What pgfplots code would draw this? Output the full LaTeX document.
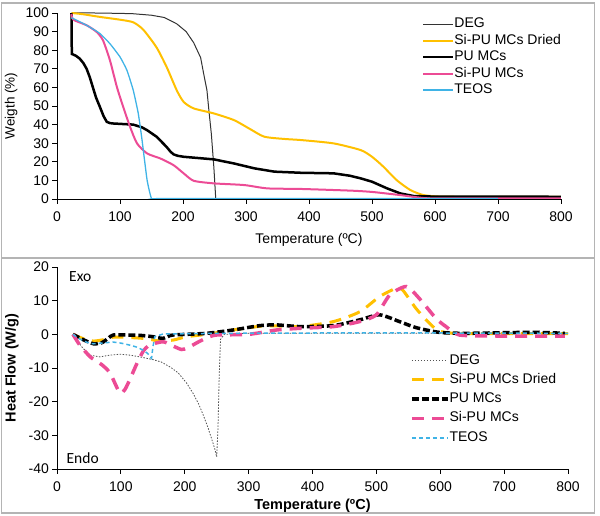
\documentclass[border=0pt]{standalone}
\usepackage{pgfplots}
\pgfplotsset{compat=1.18}
\usepackage{fontspec}
\setmainfont{Liberation Sans}
\newfontfamily\calibri{Carlito}
\definecolor{cgold}{HTML}{FFC000}
\definecolor{cpink}{HTML}{EC4B95}
\definecolor{ccyan}{HTML}{3FB3E6}
\definecolor{cdeg}{HTML}{333333}
\definecolor{cframe}{HTML}{B4B4B4}
\pgfplotsset{
  common/.style={
    scale only axis,
    axis lines=left,
    axis line style={-, black, line width=0.9pt},
    tick style={black, line width=0.9pt},
    tick align=outside,
    major tick length=4.5pt,
    xmin=0, xmax=800,
    xtick={0,100,...,800},
    /pgf/number format/assume math mode=true,
    tick label style={font=\fontsize{14}{16}\selectfont},
    xticklabel style={yshift=-5pt},
    legend cell align=left,
  },
}
\begin{document}
\begin{tikzpicture}
\useasboundingbox (0pt,0pt) rectangle (600pt,515pt);
\draw[cframe, line width=1.2pt] (1.5pt,257pt) rectangle (594.5pt,512pt);
\draw[cframe, line width=1.2pt] (1.5pt,2pt) rectangle (594.5pt,257pt);
% ---------------- TGA ----------------
\begin{axis}[common,
  at={(57pt,316pt)}, anchor=south west,
  width=504pt, height=186pt,
  ymin=0, ymax=100, ytick={0,10,...,100},
  xlabel={Temperature (ºC)},
  ylabel={Weigth (\%)},
  xlabel style={at={(axis description cs:0.5,-0.218)}, anchor=center, font=\fontsize{14}{16}\selectfont},
  ylabel style={at={(axis description cs:-0.091,0.5)}, anchor=center, font=\fontsize{13.5}{16}\selectfont},
  legend image code/.code={\draw[#1] (0pt,0pt) -- (30pt,0pt);},
  legend style={at={(axis description cs:0.724,0.975)}, anchor=north west, draw=none, fill=none,
    inner sep=0pt, outer sep=0pt, row sep=3.5pt,
    font=\fontsize{14}{16}\selectfont,
    nodes={inner sep=0pt, text height=10pt, text depth=3pt},
    /tikz/every even column/.append style={column sep=2.5pt}},
]
\addplot[cdeg, line width=1pt] coordinates {
(25,100)(60,100)(100,99.8)(121,99.6)(150,98.8)(170,97.6)(190,94.2)(205,90)(217,84)(228,76)(233,67)(238,58.5)(241,48)(245,35)(249,17)(252,0)(260,0)(800,0)};
\addlegendentry{DEG}
\addplot[cgold, line width=2pt, smooth, tension=0.4] coordinates {
(23,100)(40,99.4)(68,97.9)(100,96.4)(121,95)(137,91)(158,81.5)(174,71)(190,58.5)(201,52.2)(217,48.7)(249,46)(281,42.4)(307,37.5)(329,33.5)(360,32.3)(387,31.7)(439,29.9)(482,26.3)(500,22.7)(518,17.4)(539,10.2)(561,4.8)(582,2.1)(608,1.3)(650,1.2)(800,1.2)};
\addlegendentry{Si-PU MCs Dried}
\addplot[black, line width=2.5pt] coordinates {
(23,100)(23.5,78)(30,77)(36,75.5)(42,73)(47,70)(52,65.5)(57,60)(62,54.5)(68,49.6)(74,44.5)(79,41.5)(84,40.8)(89,40.6)(121,40)(135,38.5)(143,37)(158,33.5)(174,28)(180,25.5)(185,24)(192,23.2)(201,22.7)(249,21.3)(281,19.1)(313,16.5)(345,14.7)(387,14.1)(439,13.8)(465,12.5)(482,11.1)(500,9.3)(524,5.7)(545,3)(566,1.6)(597,1.3)(800,1.2)};
\addlegendentry{PU MCs}
\addplot[cpink, line width=2pt, smooth, tension=0.4] coordinates {
(23,99.5)(26,96.4)(47,93.4)(63,89.8)(73,85.3)(84,74.6)(95,60.3)(105,49.6)(116,38.8)(127,29.9)(143,24.5)(164,21.8)(185,18.2)(201,13.8)(217,9.8)(249,8.4)(297,7.5)(334,5.7)(387,5.4)(466,4.5)(500,3.8)(545,2.1)(587,0.4)(650,0.3)(800,0.3)};
\addlegendentry{Si-PU MCs}
\addplot[ccyan, line width=1.3pt, smooth, tension=0.3] coordinates {
(23,97.5)(47,93.4)(68,89)(84,83.5)(100,76.4)(111,69.2)(121,58.5)(129,46)(135,31.7)(143,10.2)(150,0.3)(160,0.2)(400,0.2)(700,0.2)};
\addlegendentry{TEOS}
\end{axis}
% ---------------- DSC ----------------
\begin{axis}[common,
  at={(57pt,46pt)}, anchor=south west,
  width=511pt, height=202pt,
  ymin=-40, ymax=20, ytick={-40,-30,...,20},
  xlabel={\bfseries Temperature (ºC)},
  ylabel={\bfseries Heat Flow (W/g)},
  xlabel style={at={(axis description cs:0.5,-0.183)}, anchor=center, font=\fontsize{14.5}{16}\selectfont},
  ylabel style={at={(axis description cs:-0.088,0.5)}, anchor=center, font=\fontsize{14.5}{16}\selectfont},
  legend image code/.code={\draw[#1] (0pt,0pt) -- (36pt,0pt);},
  legend style={at={(axis description cs:0.691,0.569)}, anchor=north west, draw=none, fill=none,
    inner sep=0pt, outer sep=0pt, row sep=6.3pt,
    font=\fontsize{14}{16}\selectfont,
    nodes={inner sep=0pt, text height=10pt, text depth=3pt},
    /tikz/every even column/.append style={column sep=7pt}},
]
\node[anchor=west, font=\calibri\fontsize{15.5}{18}\selectfont] at (rel axis cs:0.017,0.955) {Exo};
\node[anchor=west, font=\calibri\fontsize{15.5}{18}\selectfont] at (rel axis cs:0.012,0.055) {Endo};
\addplot[cdeg!85, line width=0.8pt, dash pattern=on 1.5pt off 1.5pt] coordinates {
(25,0)(32,-2)(40,-4)(52,-6.2)(67,-6.7)(82,-6.2)(98,-5.9)(115,-6.2)(130,-6.7)(150,-7.5)(163,-8.2)(178,-9.8)(190,-11.5)(203,-14.5)(213,-17.5)(222,-20.8)(229,-24)(236,-27.5)(242,-31)(247,-34)(250,-36.4)(252,-28)(254,-12)(256,-1.5)(262,0)(300,0.3)(500,0.3)(800,0.3)};
\addlegendentry{DEG}
\addplot[cgold, line width=3pt, dash pattern=on 12pt off 8pt, smooth, tension=0.4] coordinates {
(25,0)(40,-1.2)(57,-2)(75,-1.5)(90,-0.8)(119,-1)(140,-1.3)(161,-2)(182,-1.7)(203,-0.7)(234,0)(276,1.3)(318,2.4)(344,2.5)(381,2.3)(433,3.8)(474,6.7)(505,11.2)(531,13.7)(541,13.2)(562,7.7)(583,3.3)(598,1)(624,0.3)(700,0.2)(800,0.2)};
\addlegendentry{Si-PU MCs Dried}
\addplot[black, line width=3.5pt, dash pattern=on 7pt off 3pt, smooth, tension=0.4] coordinates {
(25,0)(40,-1.5)(57,-2.8)(70,-2.5)(80,-1.2)(88,-0.2)(110,-0.2)(130,-0.3)(150,-0.7)(165,-1.2)(172,-0.8)(182,-0.2)(234,0.3)(276,1.3)(318,2.6)(344,2.8)(381,2.3)(433,2.6)(474,4.3)(505,5.8)(536,3.8)(562,2)(598,0.6)(640,0.3)(743,0.6)(795,0.3)};
\addlegendentry{PU MCs}
\addplot[cpink, line width=3.5pt, dash pattern=on 12pt off 8pt, smooth, tension=0.4] coordinates {
(25,0)(35,-3)(52,-6.7)(70,-9)(83,-11.5)(98,-17.3)(106,-16.5)(115,-13)(125,-8.7)(135,-5)(145,-3.2)(166,-2.2)(182,-3.5)(195,-4.5)(205,-4)(219,-2.5)(235,-1)(250,-0.2)(300,0)(344,1.3)(381,1.8)(433,2.3)(474,3.8)(500,5.8)(521,11.7)(547,14.2)(567,10.7)(593,4.8)(609,2.3)(630,-0.2)(692,-0.5)(795,-0.5)};
\addlegendentry{Si-PU MCs}
\addplot[ccyan, line width=1.5pt, dash pattern=on 4pt off 3pt] coordinates {
(25,0)(32,-1)(40,-1.8)(50,-2.6)(57,-2.8)(70,-2.6)(88,-2.3)(100,-2.6)(114,-3.2)(125,-3.8)(135,-4.7)(142,-5.7)(148,-7.1)(150,-4)(153,-0.7)(166,0.1)(250,0.3)(400,0.4)(600,0.4)(800,0.3)};
\addlegendentry{TEOS}
\end{axis}
\end{tikzpicture}
\end{document}
